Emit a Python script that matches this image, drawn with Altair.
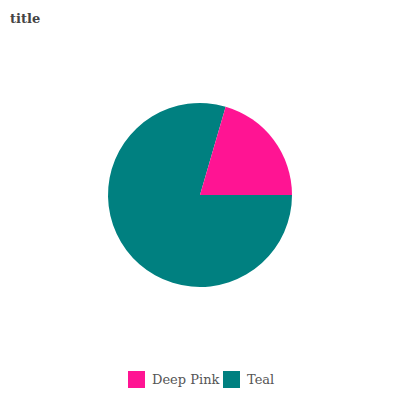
import altair as alt
import pandas as pd
import math

categories = ["Teal", "Deep Pink"]
values = [79.5, 20.5]
order = [0, 1]
colors = ["#FF1493", "#008080"]

df = pd.DataFrame({"category": categories, "value": values, "ord": order})

chart = alt.Chart(df).mark_arc(outerRadius=92).encode(
    x=alt.value(190),
    y=alt.value(157),
    theta=alt.Theta("value:Q", stack=True,
                    scale=alt.Scale(range=[math.pi / 2, math.pi / 2 + 2 * math.pi])),
    order=alt.Order("ord:Q"),
    color=alt.Color("category:N",
                    scale=alt.Scale(domain=["Deep Pink", "Teal"], range=colors),
                    legend=alt.Legend(title=None, orient="none", direction="horizontal",
                                      legendX=118, legendY=333,
                                      symbolType="square", symbolSize=289,
                                      labelFont="DejaVu Serif", labelFontSize=13,
                                      labelColor="#555555", symbolStrokeWidth=0,
                                      columnPadding=3, labelOffset=7)),
).properties(
    width=380, height=346,
    padding={"left": 2, "top": 30, "right": 2, "bottom": 8},
    autosize=alt.AutoSizeParams(type="none"),
    title=alt.Title("title", anchor="start", font="DejaVu Serif", fontSize=13,
                    fontWeight="bold", color="#444444", offset=12),
).configure_view(stroke=None)

chart.save("out.html", embed_options={"renderer": "svg", "actions": False})
